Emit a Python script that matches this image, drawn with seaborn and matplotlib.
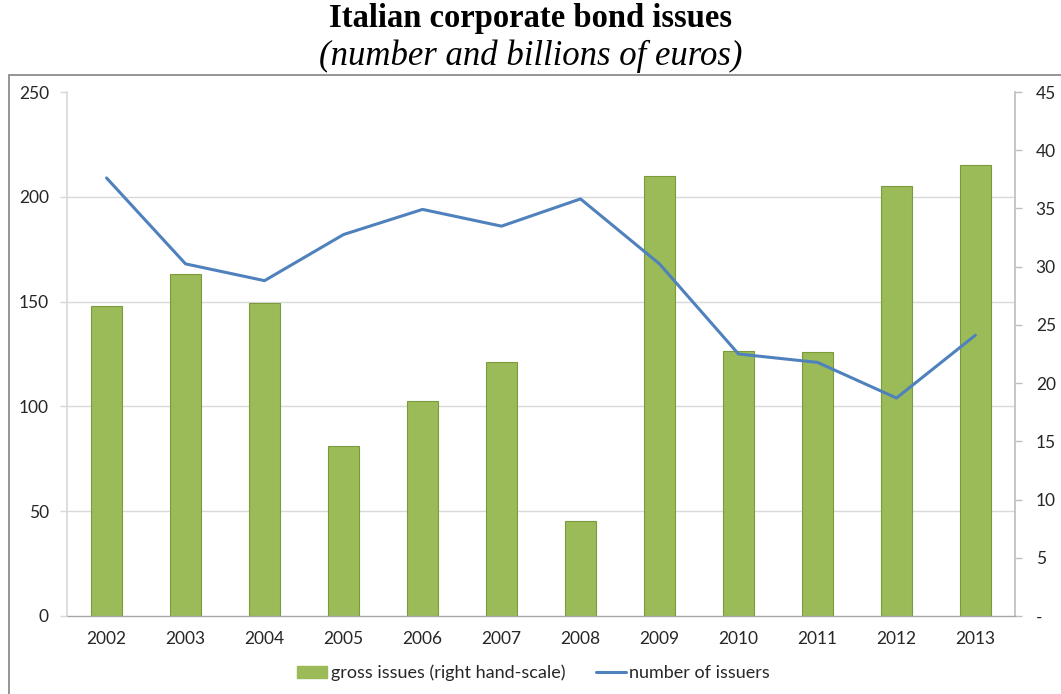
import numpy as np
import matplotlib
matplotlib.use("Agg")
import matplotlib.pyplot as plt
from matplotlib.patches import Rectangle, Patch
from matplotlib.lines import Line2D
import seaborn as sns

years = ["2002", "2003", "2004", "2005", "2006", "2007",
         "2008", "2009", "2010", "2011", "2012", "2013"]
# gross issues, billions of euros (right-hand scale)
gross_issues = [26.6, 29.4, 26.9, 14.6, 18.5, 21.8, 8.2, 37.8, 22.8, 22.7, 36.9, 38.7]
# number of issuers (left-hand scale)
issuers = [209, 168, 160, 182, 194, 186, 199, 168, 125, 121, 104, 134]

left_ticks = [0, 50, 100, 150, 200, 250]
right_ticks = [0, 5, 10, 15, 20, 25, 30, 35, 40, 45]
right_tick_labels = ["-", "5", "10", "15", "20", "25", "30", "35", "40", "45"]

LEFT_MAX = 250
RIGHT_MAX = 45

BAR_GREEN = "#9BBB59"
BAR_EDGE = "#7A9A3C"
LINE_BLUE = "#4F81BD"
GRID = "#D9D9D9"
TEXT = "#262626"

sns.set_theme(style="white")
plt.rcParams["font.family"] = ["Lato", "DejaVu Sans"]

fig = plt.figure(figsize=(10.61, 6.94), dpi=100)
ax = fig.add_axes([0.0632, 0.1124, 0.8934, 0.7550])
# twin axes for the issuers line (drawn above the bars)
ax2 = ax.twinx()

# bars on the primary axes, scaled on the right-hand side
sns.barplot(x=years, y=gross_issues, ax=ax, color=BAR_GREEN, saturation=1,
            width=0.40, edgecolor=BAR_EDGE, linewidth=0.8, zorder=2)
ax.set_xlim(-0.5, len(years) - 0.5)
ax.set_ylim(0, RIGHT_MAX)
ax.set_yticks(right_ticks)
ax.set_yticklabels(right_tick_labels)
ax.set_xlabel("")
ax.set_ylabel("")
ax.set_axisbelow(True)

# horizontal gridlines follow the left-hand scale but sit behind the bars
grid_pos = np.array(left_ticks[1:]) / LEFT_MAX * RIGHT_MAX
ax.set_yticks(grid_pos, minor=True)
ax.yaxis.grid(False, which="major")
ax.yaxis.grid(True, which="minor", color=GRID, linewidth=1.0)
ax.xaxis.grid(False)

# line of issuers, scaled on the left-hand side
sns.lineplot(x=np.arange(len(years)), y=issuers, ax=ax2, color=LINE_BLUE,
             linewidth=2.2, zorder=3)
ax2.set_ylim(0, LEFT_MAX)
ax2.set_yticks(left_ticks)
ax2.set_ylabel("")
ax2.set_xlim(-0.5, len(years) - 0.5)
ax2.grid(False)

ax.yaxis.tick_right()
ax2.yaxis.tick_left()

for a in (ax, ax2):
    for s in a.spines.values():
        s.set_visible(False)

ax.spines["bottom"].set_visible(True)
ax.spines["bottom"].set_color("#A6A6A6")
ax.spines["bottom"].set_linewidth(1.0)
ax.spines["left"].set_visible(True)
ax.spines["left"].set_color(GRID)
ax.spines["right"].set_visible(True)
ax.spines["right"].set_color("#BFBFBF")

# x ticks: labels centred, tick marks between categories
ax.set_xticks(np.arange(len(years)))
ax.set_xticklabels(years)
ax.set_xticks(np.arange(-0.5, len(years)), minor=True)
ax.tick_params(axis="x", which="major", length=0, pad=11, labelsize=12.5, labelcolor=TEXT)
ax.tick_params(axis="x", which="minor", length=6, width=1.0, color="#A6A6A6", direction="out")
ax.tick_params(axis="y", which="major", right=True, left=False, labelright=True,
               labelleft=False, length=5, width=1.0, color="#BFBFBF", pad=10,
               labelsize=12.5, labelcolor=TEXT, direction="out")
ax.tick_params(axis="y", which="minor", left=False, right=False,
               labelleft=False, labelright=False, length=0)
ax2.tick_params(axis="y", which="major", left=True, right=False, labelleft=True,
                labelright=False, length=5, width=1.0, color=GRID, pad=8,
                labelsize=12.5, labelcolor=TEXT, direction="out")
ax2.tick_params(axis="x", which="both", bottom=False, labelbottom=False)

# titles
fig.text(0.5, 0.973, "Italian corporate bond issues", ha="center", va="center",
         fontsize=23.5, fontweight="bold", family=["Liberation Serif", "DejaVu Serif"],
         color="black")
fig.text(0.5, 0.919, "(number and billions of euros)", ha="center", va="center",
         fontsize=25, style="italic", family=["Liberation Serif", "DejaVu Serif"],
         color="black")

# chart-area frame
fig.patches.append(Rectangle((9 / 1061, -0.05), 1.2, 1 - 75 / 694 + 0.05,
                             transform=fig.transFigure, fill=False,
                             edgecolor="#8C8C8C", linewidth=1.3, zorder=0))

handles = [Patch(facecolor=BAR_GREEN, edgecolor=BAR_GREEN),
           Line2D([0], [0], color=LINE_BLUE, linewidth=2.2)]
labels = ["gross issues (right hand-scale)", "number of issuers"]
fig.legend(handles, labels, loc="center", bbox_to_anchor=(0.503, 0.030), ncol=2,
           frameon=False, fontsize=13, handlelength=1.65, handleheight=0.7,
           handletextpad=0.2, columnspacing=1.7, labelcolor=TEXT)

fig.savefig("out.png", dpi=100)
